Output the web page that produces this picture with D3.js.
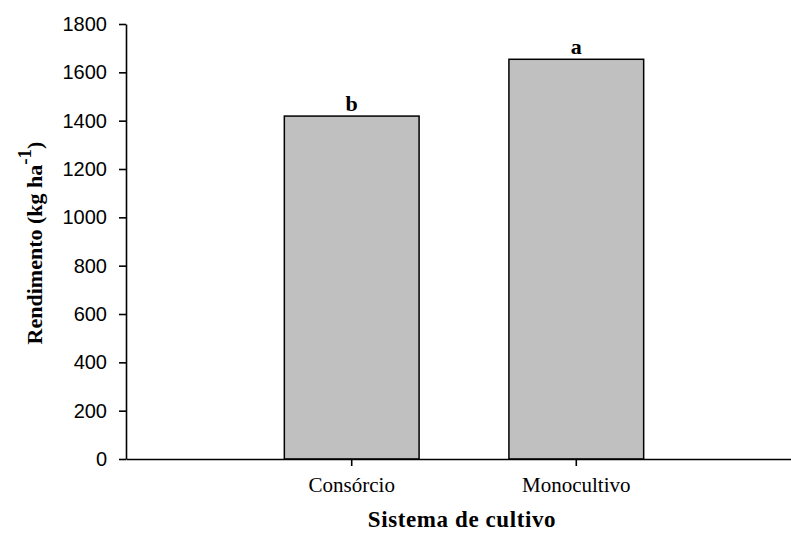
<!DOCTYPE html>
<html>
<head>
<meta charset="utf-8">
<script src="https://cdn.jsdelivr.net/npm/d3@7"></script>
<style>
  html, body { margin: 0; padding: 0; background: #fff; }
  svg { display: block; }
</style>
</head>
<body>
<svg id="chart" width="791" height="533"></svg>
<script>
// Grain yield by cropping system
const categories = ["Consórcio", "Monocultivo"];
const yields = [1419, 1654];
const letters = ["b", "a"];
const yTicks = [0, 200, 400, 600, 800, 1000, 1200, 1400, 1600, 1800];

const svg = d3.select("#chart");
const x0 = 126, yTop = 24, yBottom = 459;
const serif = "'Liberation Serif', 'Times New Roman', serif";

const x = d3.scaleBand()
  .domain(categories)
  .range([x0, 802])
  .paddingInner(0.4)
  .paddingOuter(0.705);

const y = d3.scaleLinear().domain([0, 1800]).range([yBottom, yTop]);

// bars
svg.append("g").selectAll("rect")
  .data(categories)
  .join("rect")
  .attr("x", d => x(d))
  .attr("y", (d, i) => y(yields[i]))
  .attr("width", x.bandwidth())
  .attr("height", (d, i) => yBottom - y(yields[i]))
  .attr("fill", "#c0c0c0")
  .attr("stroke", "#000")
  .attr("stroke-width", 1.5);

// significance letters
svg.append("g").selectAll("text")
  .data(categories)
  .join("text")
  .attr("x", d => x(d) + x.bandwidth() / 2)
  .attr("y", (d, i) => y(yields[i]) - 5.5)
  .attr("text-anchor", "middle")
  .attr("font-family", serif)
  .attr("font-weight", "bold")
  .attr("font-size", 22)
  .text((d, i) => letters[i]);

// y axis
const yAxis = svg.append("g")
  .attr("transform", `translate(${x0},0)`)
  .call(d3.axisLeft(y).tickValues(yTicks).tickFormat(d3.format("d"))
    .tickSize(7).tickSizeOuter(0).tickPadding(12));
yAxis.select(".domain").attr("stroke-width", 1.6);
yAxis.selectAll(".tick line").attr("stroke-width", 1.6);
yAxis.selectAll(".tick text")
  .attr("font-family", "'Liberation Sans', Arial, sans-serif")
  .attr("font-size", 20)
  .attr("fill", "#000");

// x axis
const xAxis = svg.append("g")
  .attr("transform", `translate(0,${yBottom})`)
  .call(d3.axisBottom(x).tickSize(7).tickSizeOuter(0).tickPadding(11));
xAxis.select(".domain").attr("stroke-width", 1.6);
xAxis.selectAll(".tick line").attr("stroke-width", 1.6);
xAxis.selectAll(".tick text")
  .attr("font-family", serif)
  .attr("font-size", 21)
  .attr("fill", "#000");

// axis titles
svg.append("text")
  .attr("x", 462)
  .attr("y", 527)
  .attr("text-anchor", "middle")
  .attr("font-family", serif)
  .attr("font-weight", "bold")
  .attr("font-size", 23)
  .attr("letter-spacing", 0.6)
  .text("Sistema de cultivo");

const yTitle = svg.append("text")
  .attr("transform", "translate(42,243) rotate(-90)")
  .attr("text-anchor", "middle")
  .attr("font-family", serif)
  .attr("font-weight", "bold")
  .attr("font-size", 22);
yTitle.append("tspan").text("Rendimento (kg ha");
yTitle.append("tspan").attr("dy", -11).attr("font-size", 19).text("-1");
yTitle.append("tspan").attr("dy", 11).text(")");
</script>
</body>
</html>
